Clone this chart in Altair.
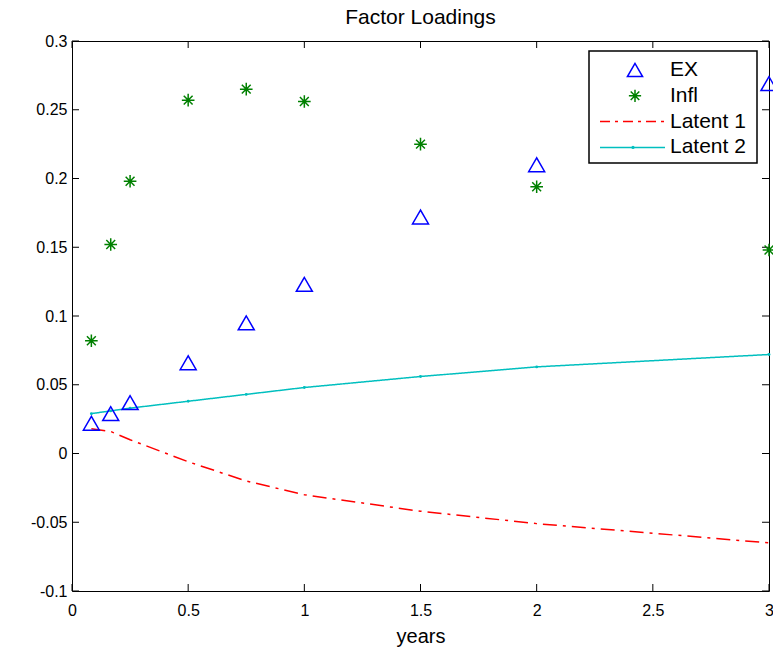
import altair as alt
import pandas as pd

maturities = [1/12, 2/12, 0.25, 0.5, 0.75, 1, 1.5, 2, 3]
ex = [0.022, 0.029, 0.037, 0.066, 0.095, 0.123, 0.172, 0.210, 0.269]
infl = [0.082, 0.152, 0.198, 0.257, 0.265, 0.256, 0.225, 0.194, 0.148]
latent1 = [0.018, 0.016, 0.010, -0.006, -0.020, -0.030, -0.042, -0.051, -0.065]
latent2 = [0.029, 0.031, 0.033, 0.038, 0.043, 0.048, 0.056, 0.063, 0.072]

series_names = ["EX", "Infl", "Latent 1", "Latent 2"]
colors = ["#0000ff", "#008000", "#ff0000", "#00bfbf"]
x_ticks = [0, 0.5, 1, 1.5, 2, 2.5, 3]
y_ticks = [-0.1, -0.05, 0, 0.05, 0.1, 0.15, 0.2, 0.25, 0.3]

W, H = 697, 550
FONT = "Liberation Sans"
ASTERISK = "M0,-1L0,1M-1,0L1,0M-0.7,-0.7L0.7,0.7M-0.7,0.7L0.7,-0.7"

rows = []
for name, vals in zip(series_names, [ex, infl, latent1, latent2]):
    for m, v in zip(maturities, vals):
        rows.append({"years": m, "value": v, "series": name})
df = pd.DataFrame(rows)

xs = alt.Scale(domain=[0, 3], nice=False, zero=False)
ys = alt.Scale(domain=[-0.1, 0.3], nice=False, zero=False)

x_enc = alt.X("years:Q", scale=xs,
              axis=alt.Axis(values=x_ticks, title="years", ticks=False, domain=False, grid=False,
                            labelFlush=False, labelExpr="'' + datum.value",
                            labelPadding=11, titlePadding=8))
y_enc = alt.Y("value:Q", scale=ys,
              axis=alt.Axis(values=y_ticks, title=None, ticks=False, domain=False, grid=False,
                            labelExpr="'' + datum.value", labelPadding=5))

color_scale = alt.Scale(domain=series_names, range=colors)
shape_scale = alt.Scale(domain=series_names, range=["triangle-up", ASTERISK, "circle", "circle"])
dash_scale = alt.Scale(domain=series_names, range=[[1, 0], [1, 0], [14, 6, 3, 6], [1, 0]])
legend_dash_scale = alt.Scale(domain=series_names, range=[[1, 0], [1, 0], [10, 5, 3, 5], [1, 0]])

base = alt.Chart(df)


def marker_layer(src, name, size, x, y):
    return src.transform_filter(alt.datum.series == name).mark_point(
        filled=False, size=size, strokeWidth=1.5, opacity=1
    ).encode(
        x=x, y=y,
        color=alt.Color("series:N", scale=color_scale, legend=None),
        shape=alt.Shape("series:N", scale=shape_scale, legend=None),
    )


tri = marker_layer(base, "EX", 256, x_enc, y_enc)
ast = marker_layer(base, "Infl", 160, x_enc, y_enc)

lines = base.transform_filter(
    alt.FieldOneOfPredicate(field="series", oneOf=["Latent 1", "Latent 2"])
).mark_line(strokeWidth=1.5).encode(
    x=x_enc, y=y_enc,
    color=alt.Color("series:N", scale=color_scale, legend=None),
    strokeDash=alt.StrokeDash("series:N", scale=dash_scale, legend=None),
)

dots = base.transform_filter(
    alt.datum.series == "Latent 2"
).mark_point(filled=True, size=8, opacity=1).encode(
    x=x_enc, y=y_enc,
    color=alt.Color("series:N", scale=color_scale, legend=None),
)

# inward tick marks on all four sides
xt = pd.DataFrame({"t": x_ticks})
yt = pd.DataFrame({"t": y_ticks})
tick_style = dict(color="black", strokeWidth=1)
xb = alt.Chart(xt).mark_rule(**tick_style).encode(
    x=alt.X("t:Q", scale=xs), y=alt.value(H), y2=alt.value(H - 7))
xtp = alt.Chart(xt).mark_rule(**tick_style).encode(
    x=alt.X("t:Q", scale=xs), y=alt.value(0), y2=alt.value(7))
yl = alt.Chart(yt).mark_rule(**tick_style).encode(
    y=alt.Y("t:Q", scale=ys), x=alt.value(0), x2=alt.value(7))
yr = alt.Chart(yt).mark_rule(**tick_style).encode(
    y=alt.Y("t:Q", scale=ys), x=alt.value(W), x2=alt.value(W - 7))

# legend (MATLAB style box, top right)
leg_df = pd.DataFrame({"series": series_names, "row": list(range(len(series_names)))})
leg = alt.Chart(leg_df).transform_calculate(ly="29 + 25.8 * datum.row")
leg_y = alt.Y("ly:Q", scale=None)

leg_box = alt.Chart(pd.DataFrame({"k": [0]})).mark_rect(
    fill="white", stroke="black", strokeWidth=1.5
).encode(x=alt.value(517), x2=alt.value(685), y=alt.value(10), y2=alt.value(122))

leg_text = leg.mark_text(align="left", baseline="middle", font=FONT, fontSize=21,
                         color="black").encode(x=alt.value(598), y=leg_y, text="series:N")

leg_tri = marker_layer(leg, "EX", 230, alt.value(563), leg_y)
leg_ast = marker_layer(leg, "Infl", 150, alt.value(563), leg_y)

leg_lines = leg.transform_filter(
    alt.FieldOneOfPredicate(field="series", oneOf=["Latent 1", "Latent 2"])
).mark_rule(strokeWidth=1.5).encode(
    x=alt.value(528), x2=alt.value(593), y=leg_y,
    color=alt.Color("series:N", scale=color_scale, legend=None),
    strokeDash=alt.StrokeDash("series:N", scale=legend_dash_scale, legend=None),
)

leg_dot = leg.transform_filter(alt.datum.series == "Latent 2").mark_point(
    filled=True, size=10, opacity=1
).encode(x=alt.value(561), y=leg_y,
         color=alt.Color("series:N", scale=color_scale, legend=None))

chart = alt.layer(
    xb, xtp, yl, yr, lines, dots, tri, ast,
    leg_box, leg_lines, leg_dot, leg_tri, leg_ast, leg_text
).properties(
    width=W, height=H,
    title=alt.Title("Factor Loadings", offset=5),
    autosize=alt.AutoSizeParams(type="none"),
    padding={"left": 72, "top": 41, "right": 4, "bottom": 59},
).resolve_scale(color="shared", shape="shared", strokeDash="independent").configure_view(
    stroke="black", strokeWidth=1
).configure_title(
    font=FONT, fontSize=21, fontWeight="normal", color="black"
).configure_axis(
    labelFont=FONT, labelFontSize=16, labelColor="black",
    titleFont=FONT, titleFontSize=20, titleColor="black", titleFontWeight="normal",
)

chart.save("out.html", embed_options={"renderer": "svg", "actions": False})
